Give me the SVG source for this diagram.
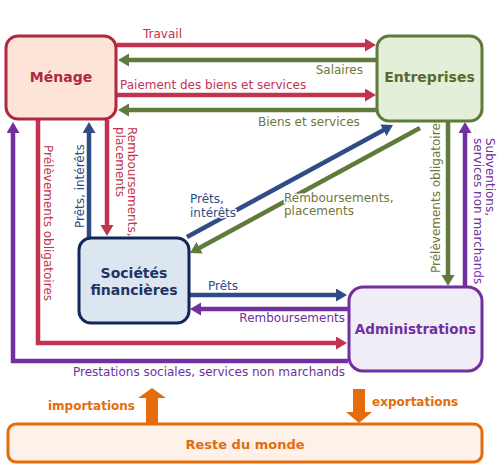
<svg xmlns="http://www.w3.org/2000/svg" width="499" height="471" viewBox="0 0 499 471">
<style>
text{font-family:"DejaVu Sans","Verdana",sans-serif;font-size:12px}
.node{font-weight:bold;font-size:14px;text-anchor:middle}
.ln{fill:none;stroke-width:4.5}
.r{stroke:#c1334f}.g{stroke:#5f7a3b}.b{stroke:#2f4c86}.p{stroke:#7030a0}
.tr{fill:#c1334f}.tg{fill:#6f773a}.tb{fill:#2f4c86}.tp{fill:#7030a0}.to{fill:#e46c0a;font-weight:bold;font-size:12px}
.halo{stroke:#fff;stroke-width:3;paint-order:stroke}
</style>
<defs>
<marker id="aR" markerUnits="userSpaceOnUse" markerWidth="12" markerHeight="14" refX="3" refY="6.5" orient="auto"><path d="M0,0 L11,6.5 L0,13 z" fill="#c1334f"/></marker>
<marker id="aG" markerUnits="userSpaceOnUse" markerWidth="12" markerHeight="14" refX="3" refY="6.5" orient="auto"><path d="M0,0 L11,6.5 L0,13 z" fill="#5f7a3b"/></marker>
<marker id="aB" markerUnits="userSpaceOnUse" markerWidth="12" markerHeight="14" refX="3" refY="6.5" orient="auto"><path d="M0,0 L11,6.5 L0,13 z" fill="#2f4c86"/></marker>
<marker id="aP" markerUnits="userSpaceOnUse" markerWidth="12" markerHeight="14" refX="3" refY="6.5" orient="auto"><path d="M0,0 L11,6.5 L0,13 z" fill="#7030a0"/></marker>
</defs>
<rect width="499" height="471" fill="#fff"/>
<g id="connectors">
<path class="ln r" d="M117,45 H368" marker-end="url(#aR)"/>
<path class="ln g" d="M376,60 H126" marker-end="url(#aG)"/>
<path class="ln r" d="M117,95 H368" marker-end="url(#aR)"/>
<path class="ln g" d="M376,110 H126" marker-end="url(#aG)"/>
<path class="ln p" d="M348,361 H13 V130" marker-end="url(#aP)"/>
<path class="ln r" d="M38,120 V343 H339" marker-end="url(#aR)"/>
<path class="ln b" d="M89,237 V130" marker-end="url(#aB)"/>
<path class="ln r" d="M107,120 V228" marker-end="url(#aR)"/>
<path class="ln b" d="M187,237 L386,128.8" marker-end="url(#aB)"/>
<path class="ln g" d="M420,128 L197,249.2" marker-end="url(#aG)"/>
<path class="ln g" d="M448,122 V278" marker-end="url(#aG)"/>
<path class="ln p" d="M465,286 V130" marker-end="url(#aP)"/>
<path class="ln b" d="M190,295 H339" marker-end="url(#aB)"/>
<path class="ln p" d="M348,309 H198" marker-end="url(#aP)"/>
<polygon fill="#e46c0a" points="146,423 146,398 138,398 152,388 166,398 158,398 158,423"/>
<polygon fill="#e46c0a" points="353,389 365,389 365,412 372,412 359,423 346,412 353,412"/>
<text class="tr" x="143" y="38">Travail</text>
<text class="tg" x="363" y="74" text-anchor="end">Salaires</text>
<text class="tr" x="120" y="89">Paiement des biens et services</text>
<text class="tg" x="258" y="126">Biens et services</text>
<text class="tr" transform="translate(44,145) rotate(90)">Prélèvements obligatoires</text>
<text class="tb" transform="translate(84,228) rotate(-90)">Prêts, intérêts</text>
<text class="tr" transform="translate(128,127) rotate(90)"><tspan x="0" dy="0">Remboursements,</tspan><tspan x="0" dy="12.5">placements</tspan></text>
<text class="tb halo" x="190" y="203">Prêts,<tspan x="190" dy="14">intérêts</tspan></text>
<text class="tg halo" x="284" y="202">Remboursements,<tspan x="284" dy="13">placements</tspan></text>
<text class="tg" transform="translate(440,273) rotate(-90)">Prélèvements obligatoires</text>
<text class="tp" transform="translate(486,138) rotate(90)"><tspan x="0" dy="0">Subventions,</tspan><tspan x="0" dy="12">services non marchands</tspan></text>
<text class="tb" x="208" y="290">Prêts</text>
<text class="tp" x="345" y="322" text-anchor="end">Remboursements</text>
<text class="tp" x="73" y="376">Prestations sociales, services non marchands</text>
<text class="to" x="48" y="410">importations</text>
<text class="to" x="372" y="406">exportations</text>
</g>
<g id="menage">
<rect x="6" y="36" width="110" height="83" rx="12" fill="#fde4d6" stroke="#b0283f" stroke-width="3"/>
<text class="node" x="61" y="82" fill="#b0283f">Ménage</text>
</g>
<g id="entreprises">
<rect x="377" y="36" width="105" height="85" rx="12" fill="#e4efd9" stroke="#5f7a3b" stroke-width="3"/>
<text class="node" x="429.5" y="82" fill="#5a6a2e">Entreprises</text>
</g>
<g id="societes">
<rect x="79" y="238" width="110" height="85" rx="12" fill="#dce6f1" stroke="#13265a" stroke-width="3"/>
<text class="node" x="134" y="278" fill="#1f3463">Sociétés<tspan x="134" dy="17">financières</tspan></text>
</g>
<g id="administrations">
<rect x="349" y="287" width="133" height="84" rx="14" fill="#f1edf6" stroke="#7030a0" stroke-width="3"/>
<text class="node" x="415.5" y="334" fill="#7030a0" style="font-size:13.5px">Administrations</text>
</g>
<g id="reste">
<rect x="8" y="424" width="474" height="38" rx="8" fill="#fdf1ea" stroke="#e46c0a" stroke-width="3"/>
<text class="node" x="245" y="449" fill="#e46c0a" style="font-size:13px">Reste du monde</text>
</g>
</svg>
